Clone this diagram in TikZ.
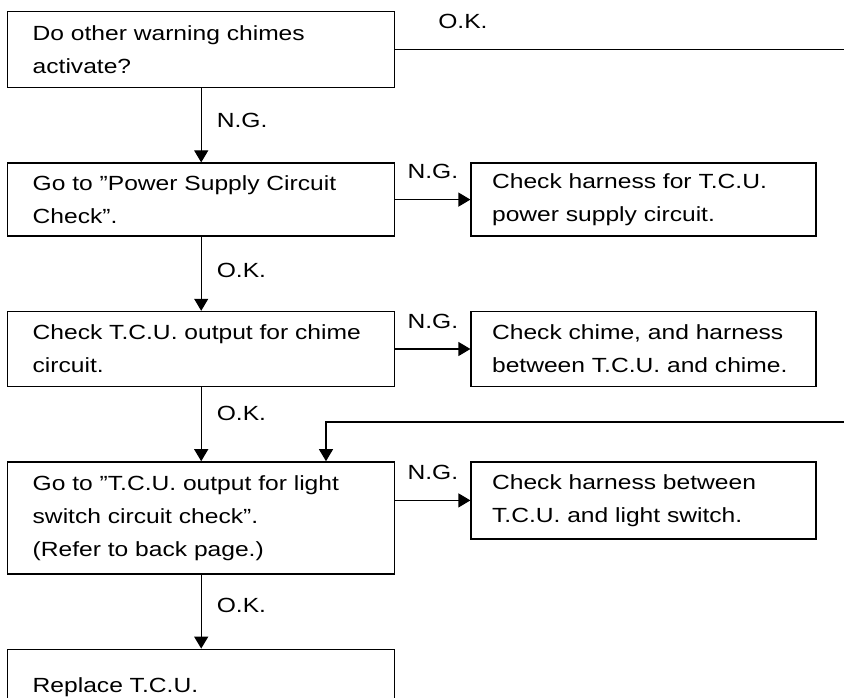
\documentclass[tikz,border=0pt]{standalone}
\usepackage{fontspec}
\setmainfont{Liberation Sans}[FakeStretch=1.2]
\usetikzlibrary{arrows.meta,positioning,calc}

\begin{document}
\begin{tikzpicture}[
	node distance=74pt and 75pt,
	every node/.style={font=\fontsize{20.5pt}{33pt}\selectfont},
	box/.style={draw,line width=1.4pt,align=left,text width=337pt,inner xsep=25pt,inner ysep=0pt,minimum height=75pt},
	side/.style={box,text width=303pt,inner xsep=21pt},
	arr/.style={-{Triangle[length=12pt,width=14pt]},line width=1.2pt},
	line/.style={line width=1.2pt},
	tag/.style={inner sep=0pt}
	]
	\useasboundingbox (0,0) rectangle (844pt,-698pt);
	\node[box,anchor=north west,minimum height=76pt] (chimes) at (7pt,-11pt) {Do other warning chimes\\activate?};
	\node[box,below=of chimes,minimum height=73pt] (power) {Go to ''Power Supply Circuit\\Check''.};
	\node[box,below=of power] (output) {Check T.C.U. output for chime\\circuit.};
	\node[box,below=of output,minimum height=112pt] (light) {Go to ''T.C.U. output for light\\switch circuit check''.\\(Refer to back page.)};
	\node[box,below=of light] (replace) {Replace T.C.U.};
	\node[side,right=of power.north east,anchor=north west,minimum height=73pt] (harness) {Check harness for T.C.U.\\power supply circuit.};
	\node[side,right=of output.north east,anchor=north west] (chime) {Check chime, and harness\\between T.C.U. and chime.};
	\node[side,right=of light.north east,anchor=north west,minimum height=77pt] (switch) {Check harness between\\T.C.U. and light switch.};
	\coordinate (okout) at ($(chimes.east)+(450pt,0)$);
	\coordinate (backin) at (844pt,-422pt);
	\coordinate (drop) at ($(light.north west)+(319pt,0)$);
	\draw[line] (chimes) -- node[tag,pos=0.15,above=20pt]{O.K.} (okout);
	\draw[arr] (chimes) -- node[tag,pos=0.43,right=15pt]{N.G.} (power);
	\draw[arr] (power) -- node[tag,pos=0.45,right=15pt]{O.K.} (output);
	\draw[arr] (output) -- node[tag,pos=0.35,right=15pt]{O.K.} (light);
	\draw[arr] (light) -- node[tag,pos=0.41,right=15pt]{O.K.} (replace);
	\draw[arr] (power) -- node[tag,above=20pt]{N.G.} (harness);
	\draw[arr] (output) -- node[tag,above=20pt]{N.G.} (chime);
	\draw[arr] (switch.west -| light.east) -- node[tag,above=20pt]{N.G.} (switch);
	\draw[arr] (backin) -| (drop);
\end{tikzpicture}
\end{document}
